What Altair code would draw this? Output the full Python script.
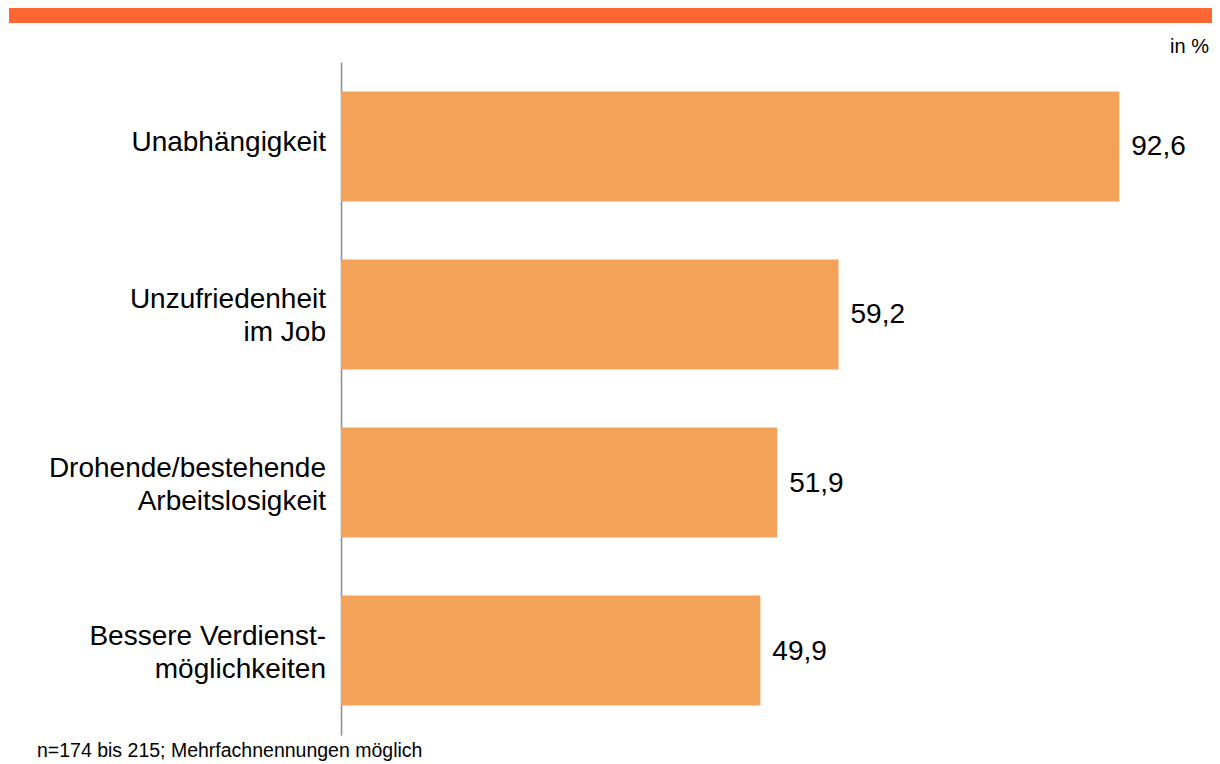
import altair as alt
import pandas as pd

categories = ["Unabhängigkeit", "Unzufriedenheit\nim Job", "Drohende/bestehende\nArbeitslosigkeit", "Bessere Verdienst-\nmöglichkeiten"]
values = [92.6, 59.2, 51.9, 49.9]

df = pd.DataFrame({
    "cat": categories,
    "value": values,
    "vlabel": [f"{v:.1f}".replace(".", ",") for v in values],
})

FONT = "Liberation Sans"
W, H = 869, 673

y_enc = alt.Y("cat:N", sort=None,
              scale=alt.Scale(paddingInner=0.345, paddingOuter=0.175),
              axis=alt.Axis(title=None, labels=False, ticks=False, domain=True,
                            domainColor="#8c8c8c", domainWidth=1.5, grid=False))
x_scale = alt.Scale(domain=[0, 103.4], nice=False, zero=True)

base = alt.Chart(df)

bars = base.mark_bar(color="#F4A259").encode(
    x=alt.X("value:Q", scale=x_scale, axis=None),
    y=y_enc,
)

vals = base.mark_text(align="left", baseline="middle", dx=12, dy=1, font=FONT, fontSize=28, color="#000000").encode(
    x=alt.X("value:Q", scale=x_scale),
    y=alt.Y("cat:N", sort=None),
    text="vlabel:N",
)

labels1 = base.transform_filter("indexof(datum.cat, '\\n') < 0").mark_text(
    align="right", baseline="middle", font=FONT, fontSize=28, dy=-3,
    color="#000000", lineBreak="\n", lineHeight=33).encode(
    x=alt.value(-15),
    y=alt.Y("cat:N", sort=None),
    text="cat:N",
)
labels2 = base.transform_filter("indexof(datum.cat, '\\n') >= 0").mark_text(
    align="right", baseline="middle", font=FONT, fontSize=28, dy=-14,
    color="#000000", lineBreak="\n", lineHeight=33).encode(
    x=alt.value(-15),
    y=alt.Y("cat:N", sort=None),
    text="cat:N",
)

deco = pd.DataFrame({"k": [0]})
band = alt.Chart(deco).mark_rect(color="#FF6633").encode(
    x=alt.value(-332), x2=alt.value(879), y=alt.value(-54), y2=alt.value(-39)
)
unit = alt.Chart(deco).mark_text(align="right", baseline="middle", font=FONT, fontSize=20, color="#000000").encode(
    x=alt.value(868), y=alt.value(-15), text=alt.value("in %")
)
foot = alt.Chart(deco).mark_text(align="left", baseline="middle", font=FONT, fontSize=19.5, color="#000000").encode(
    x=alt.value(-304), y=alt.value(689), text=alt.value("n=174 bis 215; Mehrfachnennungen möglich")
)

chart = alt.layer(band, bars, vals, labels1, labels2, unit, foot).properties(
    width=W, height=H,
    background="#ffffff",
    autosize=alt.AutoSizeParams(type="none"),
    padding={"left": 333, "top": 54, "right": 2, "bottom": 27},
).configure_view(strokeWidth=0)

chart.save("out.html", embed_options={"renderer": "svg", "actions": False})
